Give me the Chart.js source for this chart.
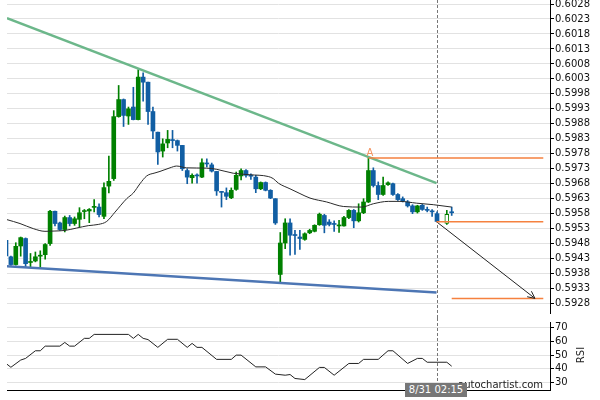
<!DOCTYPE html>
<html>
<head>
<meta charset="utf-8">
<script src="https://cdn.jsdelivr.net/npm/chart.js@4.4.1/dist/chart.umd.min.js"></script>
<style>
  html, body { margin: 0; padding: 0; background: #fff; }
  #wrap { position: relative; width: 600px; height: 400px; overflow: hidden; font-family: "DejaVu Sans", sans-serif; }
  #price-chart { position: absolute; left: 0; top: 0; }
  #rsi-chart { position: absolute; left: 0; top: 318px; }
  .label { position: absolute; white-space: nowrap; font-size: 10px; line-height: 12px; }
  #site { right: 57px; top: 379px; color: #222; }
  #time { left: 405px; top: 383px; width: 62px; height: 14px; line-height: 14px; background: #777; color: #fff; text-align: center; }
  #rsi-title { left: 566px; top: 349px; width: 30px; text-align: center; color: #222; transform: rotate(-90deg); }
</style>
</head>
<body>
<div id="wrap">
  <canvas id="price-chart" width="600" height="318"></canvas>
  <canvas id="rsi-chart" width="600" height="82"></canvas>
  <div class="label" id="site">autochartist.com</div>
  <div class="label" id="time">8/31 02:15</div>
  <div class="label" id="rsi-title">RSI</div>
</div>
<script>
// candles, one per 15 min bar; null = no bar
const candleOpen = [0.59491, 0.59436, 0.5941, 0.59472, 0.59497, 0.59417, 0.59422, 0.59438, 0.59443, 0.5948,
  0.59588, 0.59549, 0.59527, 0.59567, 0.59547, 0.59561, 0.59587, 0.59589, 0.59601, 0.59602,
  0.59571, 0.59672, 0.59697, 0.59904, 0.59961, 0.59906, 0.59936, 0.59894, 0.60036, 0.60019,
  0.59921, 0.59852, 0.59789, 0.59816, 0.59827, 0.59824, 0.59808, 0.59724, 0.597, 0.59708,
  0.59702, 0.59747, 0.59743, 0.59721, 0.59652, 0.5965, 0.59633, 0.59661, 0.59706, 0.59724,
  0.59707, 0.59702, 0.59663, 0.59684, 0.59658, 0.5963, 0.59377, 0.59482, 0.59549, 0.59508,
  0.59502, 0.59494, 0.59516, 0.59521, 0.59543, 0.59574, 0.59552, 0.59545, 0.59539, 0.59539,
  0.59567, 0.59591, 0.59556, 0.59583, 0.59619, 0.59724, 0.59674, 0.59644, 0.59677, 0.5968,
  0.59644, 0.5963, 0.59619, 0.59606, 0.59586, 0.59608, 0.59592, 0.59587, 0.5958, null,
  0.59547, 0.59584];
const candleHigh = [0.59497, 0.59438, 0.59483, 0.59502, 0.59499, 0.59447, 0.59452, 0.59456, 0.5948, 0.59591,
  0.59589, 0.59552, 0.59572, 0.59574, 0.59569, 0.596, 0.59594, 0.59597, 0.59627, 0.59613,
  0.59683, 0.59772, 0.59924, 0.60008, 0.59963, 0.59936, 0.60002, 0.60061, 0.6005, 0.60019,
  0.59936, 0.59852, 0.5983, 0.59858, 0.59858, 0.59826, 0.59808, 0.5973, 0.59713, 0.59713,
  0.59763, 0.59763, 0.59749, 0.59721, 0.59654, 0.59666, 0.59666, 0.59719, 0.5973, 0.59727,
  0.59713, 0.59708, 0.59686, 0.59686, 0.5966, 0.5963, 0.59517, 0.59563, 0.59563, 0.59524,
  0.59524, 0.59516, 0.59528, 0.59543, 0.59582, 0.59578, 0.5956, 0.59556, 0.59558, 0.59571,
  0.59594, 0.59594, 0.59613, 0.5963, 0.59766, 0.59733, 0.59686, 0.59702, 0.59686, 0.59682,
  0.59647, 0.59636, 0.59624, 0.5961, 0.59608, 0.59611, 0.59602, 0.59594, 0.59586, null,
  0.59591, 0.59602];
const candleLow = [0.59436, 0.59407, 0.59408, 0.59438, 0.59402, 0.594, 0.59419, 0.594, 0.59428, 0.59474,
  0.59539, 0.59524, 0.59519, 0.59539, 0.59541, 0.59536, 0.59563, 0.5955, 0.59586, 0.59569,
  0.59563, 0.59649, 0.59691, 0.59902, 0.59871, 0.59878, 0.59893, 0.59893, 0.59956, 0.59878,
  0.5983, 0.59744, 0.59769, 0.598, 0.598, 0.59789, 0.59724, 0.5968, 0.59682, 0.59682,
  0.597, 0.59736, 0.59719, 0.59641, 0.59602, 0.59627, 0.5963, 0.59658, 0.59693, 0.59702,
  0.59694, 0.5965, 0.5966, 0.59656, 0.5963, 0.59544, 0.59352, 0.59463, 0.59441, 0.59444,
  0.59461, 0.59491, 0.59513, 0.59519, 0.59541, 0.59516, 0.59539, 0.59521, 0.59517, 0.59538,
  0.59563, 0.59533, 0.59552, 0.5958, 0.59617, 0.59669, 0.59627, 0.59641, 0.59674, 0.59641,
  0.59624, 0.59619, 0.59602, 0.5958, 0.59582, 0.59591, 0.59586, 0.59571, 0.59552, null,
  0.59544, 0.59574];
const candleClose = [0.59439, 0.5941, 0.59471, 0.595, 0.59413, 0.59418, 0.59436, 0.59439, 0.59477, 0.59588,
  0.59547, 0.59527, 0.59567, 0.59547, 0.59563, 0.59583, 0.59588, 0.59594, 0.59602, 0.59577,
  0.59667, 0.59688, 0.59904, 0.59961, 0.59908, 0.5993, 0.59894, 0.60036, 0.60019, 0.59921,
  0.59856, 0.59786, 0.59813, 0.59828, 0.59824, 0.59808, 0.5973, 0.59702, 0.59708, 0.59706,
  0.5975, 0.59746, 0.59722, 0.59656, 0.59651, 0.59638, 0.59658, 0.59708, 0.59724, 0.59708,
  0.59705, 0.59663, 0.59684, 0.59658, 0.59632, 0.59549, 0.59482, 0.59549, 0.59508, 0.59507,
  0.59497, 0.59513, 0.59524, 0.59541, 0.59578, 0.59541, 0.59544, 0.59544, 0.5954, 0.59567,
  0.59591, 0.59556, 0.59583, 0.59619, 0.59724, 0.59674, 0.59644, 0.59674, 0.59683, 0.59644,
  0.59627, 0.59622, 0.59606, 0.59586, 0.59606, 0.59594, 0.59591, 0.59586, 0.59554, null,
  0.59578, 0.59583];
const LIVE_CANDLE = 90;   // unfinished bar, drawn hollow

// moving average (bar index, price)
const maIndex = [0.2, 2.86, 5.57, 7.96, 10, 12.05, 14.43, 16.8, 18.84, 20.56, 22.25, 24.64, 26, 27.36, 28.73,
  30.42, 31.44, 33.48, 34.85, 36.89, 40.98, 43.02, 46.4, 49.8, 53.55, 54.57, 55.6, 57.98, 60.02, 62.07,
  65.47, 68.87, 72.62, 74.99, 78.05, 80.44, 83.85, 87.24, 91];
const maValue = [0.5956, 0.59547, 0.5953, 0.59521, 0.59522, 0.59524, 0.59532, 0.5954, 0.59544, 0.59554, 0.59585,
  0.5963, 0.59649, 0.5968, 0.59706, 0.59716, 0.59721, 0.59733, 0.59739, 0.59733, 0.59732, 0.59728, 0.59715,
  0.5971, 0.59704, 0.59697, 0.59682, 0.59663, 0.59647, 0.59632, 0.59619, 0.59604, 0.59602, 0.59613, 0.59621,
  0.59621, 0.59615, 0.5961, 0.59602];

// RSI (bar index, value)
const rsiIndex = [0, 1, 3, 4, 6, 7, 8, 11, 12, 13, 14, 16, 17, 18, 25, 26, 27, 28, 29, 31, 33, 35, 37, 38, 39, 40,
  43, 46, 47, 48, 51, 53, 55, 57, 58, 59, 61, 64, 65, 67, 70, 72, 73, 76, 78, 79, 82, 84, 85, 86, 90, 91];
const rsiValue = [43.8, 41, 46.3, 47.5, 53.1, 53.1, 56.5, 56.5, 59.2, 56.5, 56.5, 62.2, 62.2, 65.1, 65.1, 62.2,
  65.1, 62.2, 61.3, 55.6, 61.5, 61.5, 55.6, 58.5, 55.6, 55.6, 46.8, 46.8, 49.9, 49.9, 41.3, 41.3, 36, 35.2,
  35.7, 32.8, 32, 40.9, 40.9, 35.2, 43.8, 43.8, 46.8, 46.8, 53.1, 53.1, 43.8, 47.5, 47.5, 44.7, 44.7, 41.8];

// pattern lines [bar index, price]
const resistanceLine = [[0.2, 0.60233], [87.9, 0.59682]];
const supportLine = [[0.2, 0.59404], [87.9, 0.59317]];
const PATTERN_END = 87.9;
const PEAK_BAR = 74;
const peakLevel = [[74, 0.59766], [109.7, 0.59766]];
const lastLevel = [[87.9, 0.59553], [109.7, 0.59553]];
const targetLevel = [[91, 0.59297], [109.7, 0.59297]];
const forecastArrow = [[87.9, 0.59553], [108, 0.59297]];

const priceTicks = [0.6028, 0.6023, 0.6018, 0.6013, 0.6008, 0.6003, 0.5998, 0.5993, 0.5988, 0.5983, 0.5978,
  0.5973, 0.5968, 0.5963, 0.5958, 0.5953, 0.5948, 0.5943, 0.5938, 0.5933, 0.5928];
const rsiTicks = [30, 40, 50, 60, 70];

const PRICE_MIN = 0.592483, PRICE_MAX = 0.602934;
const RSI_MIN = 24.36, RSI_MAX = 74.18;
const X_MIN = 0.204, X_MAX = 111.07;

const CANDLE_UP = '#008000';
const CANDLE_DOWN = '#115ea3';
const ORANGE = '#f5813f';
const GRID = '#e2e2e2';
const FONT = { family: 'DejaVu Sans', size: 10 };

const toPoints = pairs => pairs.map(([x, y]) => ({ x, y }));

const wickData = [], bodyData = [], wickColors = [], bodyColors = [], bodyBorders = [], bodyBorderWidths = [];
candleOpen.forEach((o, i) => {
  if (o === null) return;
  const c = candleClose[i];
  const col = c >= o ? CANDLE_UP : CANDLE_DOWN;
  wickData.push({ x: i, y: [candleLow[i], candleHigh[i]] });
  bodyData.push({ x: i, y: [o, c] });
  wickColors.push(col);
  bodyColors.push(i === LIVE_CANDLE ? '#fff' : col);
  bodyBorders.push(col);
  bodyBorderWidths.push(i === LIVE_CANDLE ? 1 : 0);
});

const dashedEnd = (chart, bottom) => {
  const { ctx, scales: { x } } = chart;
  const px = Math.round(x.getPixelForValue(PATTERN_END)) + 0.5;
  ctx.save();
  ctx.strokeStyle = '#777';
  ctx.lineWidth = 1;
  ctx.setLineDash([3, 2]);
  ctx.beginPath();
  ctx.moveTo(px, 0);
  ctx.lineTo(px, bottom);
  ctx.stroke();
  ctx.restore();
};

const priceOverlay = {
  id: 'priceOverlay',
  beforeDatasetsDraw(chart) {
    dashedEnd(chart, chart.height);
  },
  afterDatasetsDraw(chart) {
    const { ctx, scales: { x, y } } = chart;
    // arrow head
    const [a, b] = forecastArrow;
    const x0 = x.getPixelForValue(a[0]), y0 = y.getPixelForValue(a[1]);
    const x1 = x.getPixelForValue(b[0]), y1 = y.getPixelForValue(b[1]);
    const ang = Math.atan2(y1 - y0, x1 - x0);
    ctx.save();
    ctx.strokeStyle = '#222';
    ctx.lineWidth = 1;
    ctx.beginPath();
    [-0.45, 0.45].forEach(d => {
      ctx.moveTo(x1, y1);
      ctx.lineTo(x1 - 8 * Math.cos(ang + d), y1 - 8 * Math.sin(ang + d));
    });
    ctx.stroke();
    // peak marker
    ctx.fillStyle = '#f3925e';
    ctx.font = '10px "DejaVu Sans"';
    ctx.textAlign = 'center';
    ctx.textBaseline = 'alphabetic';
    ctx.fillText('A', x.getPixelForValue(PEAK_BAR) + 1.5, y.getPixelForValue(candleHigh[PEAK_BAR]) - 2);
    ctx.restore();
  }
};

const xScale = (display) => ({
  type: 'linear',
  min: X_MIN,
  max: X_MAX,
  offset: false,
  display,
  ticks: { display: false },
  grid: { display: false, drawTicks: false },
  border: { display: true, color: '#000', width: 1 }
});

const lineDs = (data, color, width, order, extra = {}) => Object.assign({
  type: 'line',
  data,
  borderColor: color,
  borderWidth: width,
  pointRadius: 0,
  fill: false,
  tension: 0,
  order
}, extra);

new Chart(document.getElementById('price-chart'), {
  type: 'bar',
  data: {
    datasets: [
      lineDs(toPoints(peakLevel), ORANGE, 1.5, 1),
      lineDs(toPoints(lastLevel), ORANGE, 1.5, 1),
      lineDs(toPoints(targetLevel), ORANGE, 1.5, 1),
      lineDs(toPoints(forecastArrow), '#222', 1, 1),
      lineDs(toPoints(resistanceLine), '#6cb78a', 2.5, 2),
      lineDs(toPoints(supportLine), '#4d76b4', 2.5, 2),
      lineDs(maIndex.map((v, i) => ({ x: v, y: maValue[i] })), '#2a2a2a', 1, 3, { cubicInterpolationMode: 'monotone' }),
      {
        type: 'bar',
        data: bodyData,
        backgroundColor: bodyColors,
        borderColor: bodyBorders,
        borderWidth: bodyBorderWidths,
        borderSkipped: false,
        grouped: false,
        barPercentage: 1,
        categoryPercentage: 1,
        maxBarThickness: 4,
        minBarLength: 1,
        order: 4
      },
      {
        type: 'bar',
        data: wickData,
        backgroundColor: wickColors,
        borderWidth: 0,
        grouped: false,
        barPercentage: 1,
        categoryPercentage: 1,
        maxBarThickness: 1,
        order: 5
      }
    ]
  },
  options: {
    animation: false,
    responsive: false,
    events: [],
    layout: { padding: { left: 7, top: 0, right: 0, bottom: 5 } },
    plugins: { legend: { display: false }, tooltip: { enabled: false } },
    scales: {
      x: xScale(false),
      y: {
        type: 'linear',
        position: 'right',
        min: PRICE_MIN,
        max: PRICE_MAX,
        beginAtZero: false,
        afterBuildTicks: s => { s.ticks = priceTicks.map(v => ({ value: v })); },
        afterFit: s => { s.width = 50; s.paddingTop = 0; s.paddingBottom = 0; },
        grid: { color: GRID, lineWidth: 1, tickLength: 4, tickColor: '#000' },
        border: { display: true, color: '#000', width: 1 },
        ticks: { autoSkip: false, padding: 1, color: '#111', font: FONT, callback: v => v.toFixed(4) }
      }
    }
  },
  plugins: [priceOverlay]
});

new Chart(document.getElementById('rsi-chart'), {
  type: 'line',
  data: {
    datasets: [
      lineDs(rsiIndex.map((v, i) => ({ x: v, y: rsiValue[i] })), '#222', 1, 1)
    ]
  },
  options: {
    animation: false,
    responsive: false,
    events: [],
    layout: { padding: { left: 7, top: 4, right: 0, bottom: 10 } },
    plugins: { legend: { display: false }, tooltip: { enabled: false } },
    scales: {
      x: xScale(true),
      y: {
        type: 'linear',
        position: 'right',
        min: RSI_MIN,
        max: RSI_MAX,
        afterBuildTicks: s => { s.ticks = rsiTicks.map(v => ({ value: v })); },
        afterFit: s => { s.width = 50; s.paddingTop = 0; s.paddingBottom = 0; },
        grid: { color: GRID, lineWidth: 1, tickLength: 4, tickColor: '#000' },
        border: { display: true, color: '#000', width: 1 },
        ticks: { autoSkip: false, padding: 1, color: '#111', font: FONT, callback: v => String(v) }
      }
    }
  },
  plugins: [{ id: 'rsiOverlay', beforeDatasetsDraw: chart => dashedEnd(chart, 79) }]
});
</script>
</body>
</html>
